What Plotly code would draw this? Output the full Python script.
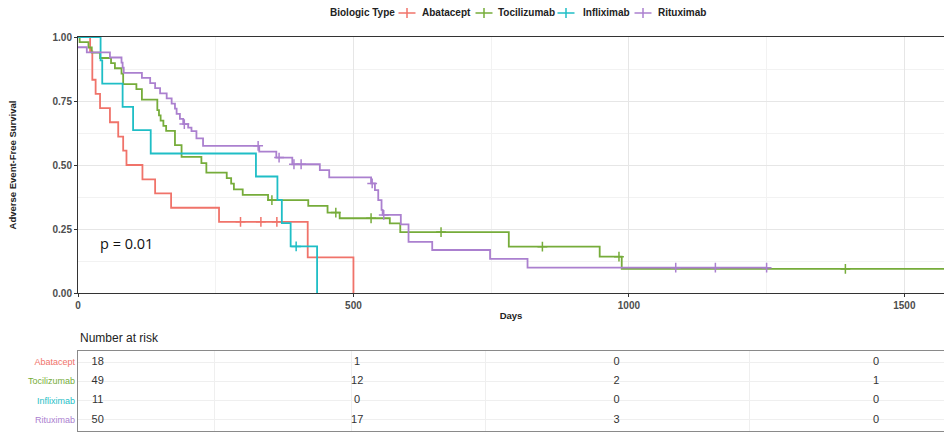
import bisect
import plotly.graph_objects as go

# ---------------- data ----------------
groups = ["Abatacept", "Tocilizumab", "Infliximab", "Rituximab"]
legend_title = "Biologic Type"

abatacept_days = [0, 22, 26, 32, 40, 58, 73, 82, 88, 117, 140, 169, 256, 417, 500]
abatacept_surv = [1.0, 0.944, 0.833, 0.778, 0.722, 0.667, 0.611, 0.556, 0.5, 0.444,
                  0.389, 0.333, 0.278, 0.139, 0.0]
abatacept_censor = [295, 332, 361]

tocilizumab_days = [0, 3, 19, 25, 40, 60, 67, 79, 82, 106, 116, 144, 147, 150, 155, 160,
                    176, 188, 224, 233, 270, 278, 283, 299, 345, 418, 453, 475, 566, 585,
                    782, 947, 987]
tocilizumab_surv = [1.0, 0.980, 0.959, 0.939, 0.918, 0.898, 0.878, 0.857, 0.816, 0.796,
                    0.755, 0.714, 0.694, 0.673, 0.653, 0.633, 0.578, 0.532, 0.507, 0.470,
                    0.449, 0.427, 0.405, 0.383, 0.363, 0.340, 0.314, 0.292, 0.272, 0.238,
                    0.181, 0.142, 0.094]
tocilizumab_censor = [352, 468, 532, 659, 843, 982, 1393, 1620]

infliximab_days = [0, 41, 44, 81, 100, 132, 323, 362, 370, 386, 434]
infliximab_surv = [1.0, 0.909, 0.818, 0.727, 0.636, 0.545, 0.455, 0.364, 0.273, 0.182, 0.0]
infliximab_censor = [396]

rituximab_days = [0, 16, 58, 79, 81, 83, 116, 131, 140, 149, 161, 170, 176, 179, 185, 191,
                  200, 206, 215, 227, 329, 360, 389, 439, 456, 532, 539, 545, 551, 553,
                  586, 600, 643, 748, 816]
rituximab_surv = [0.96, 0.94, 0.92, 0.90, 0.88, 0.86, 0.84, 0.82, 0.80, 0.78, 0.76, 0.74,
                  0.72, 0.70, 0.68, 0.66, 0.646, 0.632, 0.604, 0.575, 0.552, 0.529, 0.503,
                  0.480, 0.452, 0.428, 0.402, 0.363, 0.325, 0.305, 0.268, 0.200, 0.168,
                  0.133, 0.099]
rituximab_censor = [193, 327, 365, 392, 405, 534, 555, 1085, 1157, 1250]

risk_days = [0, 500, 1000, 1500]
abatacept_at_risk = [18, 1, 0, 0]
tocilizumab_at_risk = [49, 12, 2, 1]
infliximab_at_risk = [11, 0, 0, 0]
rituximab_at_risk = [50, 17, 3, 0]

p_value_label = "p = 0.01"

# ---------------- style ----------------
colors = ["#F0736A", "#76AC3A", "#1FBEC6", "#AB80CF"]
FONT = "Liberation Sans, Arial, sans-serif"
W, H = 944, 432
ML, MR, MT, MB = 78, 0, 37, 0
series = [
    (abatacept_days, abatacept_surv, abatacept_censor, abatacept_at_risk),
    (tocilizumab_days, tocilizumab_surv, tocilizumab_censor, tocilizumab_at_risk),
    (infliximab_days, infliximab_surv, infliximab_censor, infliximab_at_risk),
    (rituximab_days, rituximab_surv, rituximab_censor, rituximab_at_risk),
]


def px_x(px):  # page pixel -> paper x
    return (px - ML) / (W - ML - MR)


def px_y(py):  # page pixel -> paper y
    return (H - MB - py) / (H - MT - MB)


def step_value(days, surv, t):
    i = bisect.bisect_right(days, t) - 1
    return surv[max(i, 0)]


fig = go.Figure()

# curves + censor marks
for name, col, (d, s, c, _) in zip(groups, colors, series):
    xs = list(d)
    ys = list(s)
    if c and max(c) > xs[-1] and ys[-1] > 0:
        xs.append(max(c))
        ys.append(ys[-1])
    fig.add_trace(go.Scatter(
        x=xs, y=ys, mode="lines", name=name, line=dict(color=col, width=1.8, shape="hv"),
        showlegend=False, hoverinfo="skip", xaxis="x", yaxis="y"))
    fig.add_trace(go.Scatter(
        x=c, y=[step_value(d, s, t) for t in c], mode="markers", name=name,
        marker=dict(symbol="cross-thin", size=7, line=dict(color=col, width=1.5)),
        showlegend=False, hoverinfo="skip", xaxis="x", yaxis="y"))

# risk table
row_pos = [4, 3, 2, 1]
for (d, s, c, r), yrow in zip(series, row_pos):
    fig.add_trace(go.Scatter(
        x=risk_days, y=[yrow] * len(risk_days), mode="text",
        text=[str(v) for v in r],
        textfont=dict(family=FONT, size=11, color="#333333"),
        showlegend=False, hoverinfo="skip", xaxis="x2", yaxis="y2"))

ticktext = [f'<span style="color:{col}">{g}</span>' for g, col in zip(groups, colors)]

# manual legend (top, horizontal)
legend_y_px = 13
sym_cx = [407, 484, 566, 643]
txt_x = [420, 496, 581, 656]
annotations = [
    dict(text=f"<b>{legend_title}</b>", x=px_x(328), y=px_y(legend_y_px), xref="paper",
         yref="paper", xanchor="left", yanchor="middle", showarrow=False,
         font=dict(family=FONT, size=10, color="#222222")),
]
shapes = []
for name, col, cx, tx in zip(groups, colors, sym_cx, txt_x):
    annotations.append(dict(text=f"<b>{name}</b>", x=px_x(tx), y=px_y(legend_y_px),
                            xref="paper", yref="paper", xanchor="left", yanchor="middle",
                            showarrow=False, font=dict(family=FONT, size=10, color="#222222")))
    shapes.append(dict(type="line", xref="paper", yref="paper",
                       x0=px_x(cx - 8.5), x1=px_x(cx + 8.5),
                       y0=px_y(legend_y_px), y1=px_y(legend_y_px),
                       line=dict(color=col, width=1.5)))
    shapes.append(dict(type="line", xref="paper", yref="paper",
                       x0=px_x(cx), x1=px_x(cx),
                       y0=px_y(legend_y_px - 5), y1=px_y(legend_y_px + 5),
                       line=dict(color=col, width=1.5)))

annotations += [
    dict(text=p_value_label, x=36, y=0.195, xref="x", yref="y", xanchor="left",
         yanchor="middle", showarrow=False,
         font=dict(family="Open Sans, sans-serif", size=14.5, color="#111111")),
    dict(text="Number at risk", x=0, y=px_y(338), xref="paper", yref="paper",
         xanchor="left", yanchor="middle", showarrow=False,
         font=dict(family=FONT, size=12, color="#222222")),
]

fig.update_layout(
    width=W, height=H,
    margin=dict(l=ML, r=MR, t=MT, b=MB, autoexpand=False),
    paper_bgcolor="white", plot_bgcolor="white",
    font=dict(family=FONT, color="#333333"),
    showlegend=False,
    xaxis=dict(
        domain=[0, 1], range=[0, 1572], anchor="y", automargin=False,
        tickvals=[0, 500, 1000, 1500], ticktext=["0", "500", "1000", "1500"],
        ticks="outside", ticklen=3, tickcolor="#333333",
        tickfont=dict(size=10, color="#4d4d4d", weight="bold"),
        showline=True, linecolor="#333333", linewidth=1, mirror=True,
        showgrid=True, gridcolor="#e6e6e6", gridwidth=1,
        minor=dict(tickvals=[250, 750, 1250], showgrid=True, gridcolor="#f2f2f2", ticks=""),
        zeroline=False,
        title=dict(text="<b>Days</b>", font=dict(size=9.5, color="#222222"), standoff=2),
    ),
    yaxis=dict(
        domain=[px_y(293), 1.0], range=[0, 1], anchor="x", automargin=False,
        tickvals=[0, 0.25, 0.5, 0.75, 1.0], ticktext=["0.00", "0.25", "0.50", "0.75", "1.00"],
        ticks="outside", ticklen=3, tickcolor="#333333",
        tickfont=dict(size=10, color="#4d4d4d", weight="bold"),
        showline=True, linecolor="#333333", linewidth=1,
        showgrid=True, gridcolor="#e6e6e6",
        minor=dict(tickvals=[0.125, 0.375, 0.625, 0.875], showgrid=True, gridcolor="#f2f2f2", ticks=""),
        zeroline=False,
        title=dict(text="<b>Adverse Event-Free Survival</b>", font=dict(size=9.5, color="#222222"), standoff=34),
    ),
    xaxis2=dict(
        domain=[0, 1], range=[-38, 1631], anchor="y2", automargin=False,
        tickvals=[226, 490, 748, 1257], showticklabels=False, ticks="",
        showline=True, linecolor="#8a8a8a", linewidth=1.2, mirror=True,
        showgrid=True, gridcolor="#efefef", zeroline=False,
    ),
    yaxis2=dict(
        domain=[px_y(431), px_y(351)], range=[0.43, 4.57], anchor="x2", automargin=False,
        tickvals=row_pos, ticktext=ticktext, ticks="",
        tickfont=dict(size=9, family=FONT),
        showline=True, linecolor="#8a8a8a", linewidth=1.2,
        showgrid=True, gridcolor="#efefef", zeroline=False,
    ),
    annotations=annotations,
    shapes=shapes,
)

fig.write_html("out.html", config={"displayModeBar": False},
               post_script="document.body.style.margin='0';")
